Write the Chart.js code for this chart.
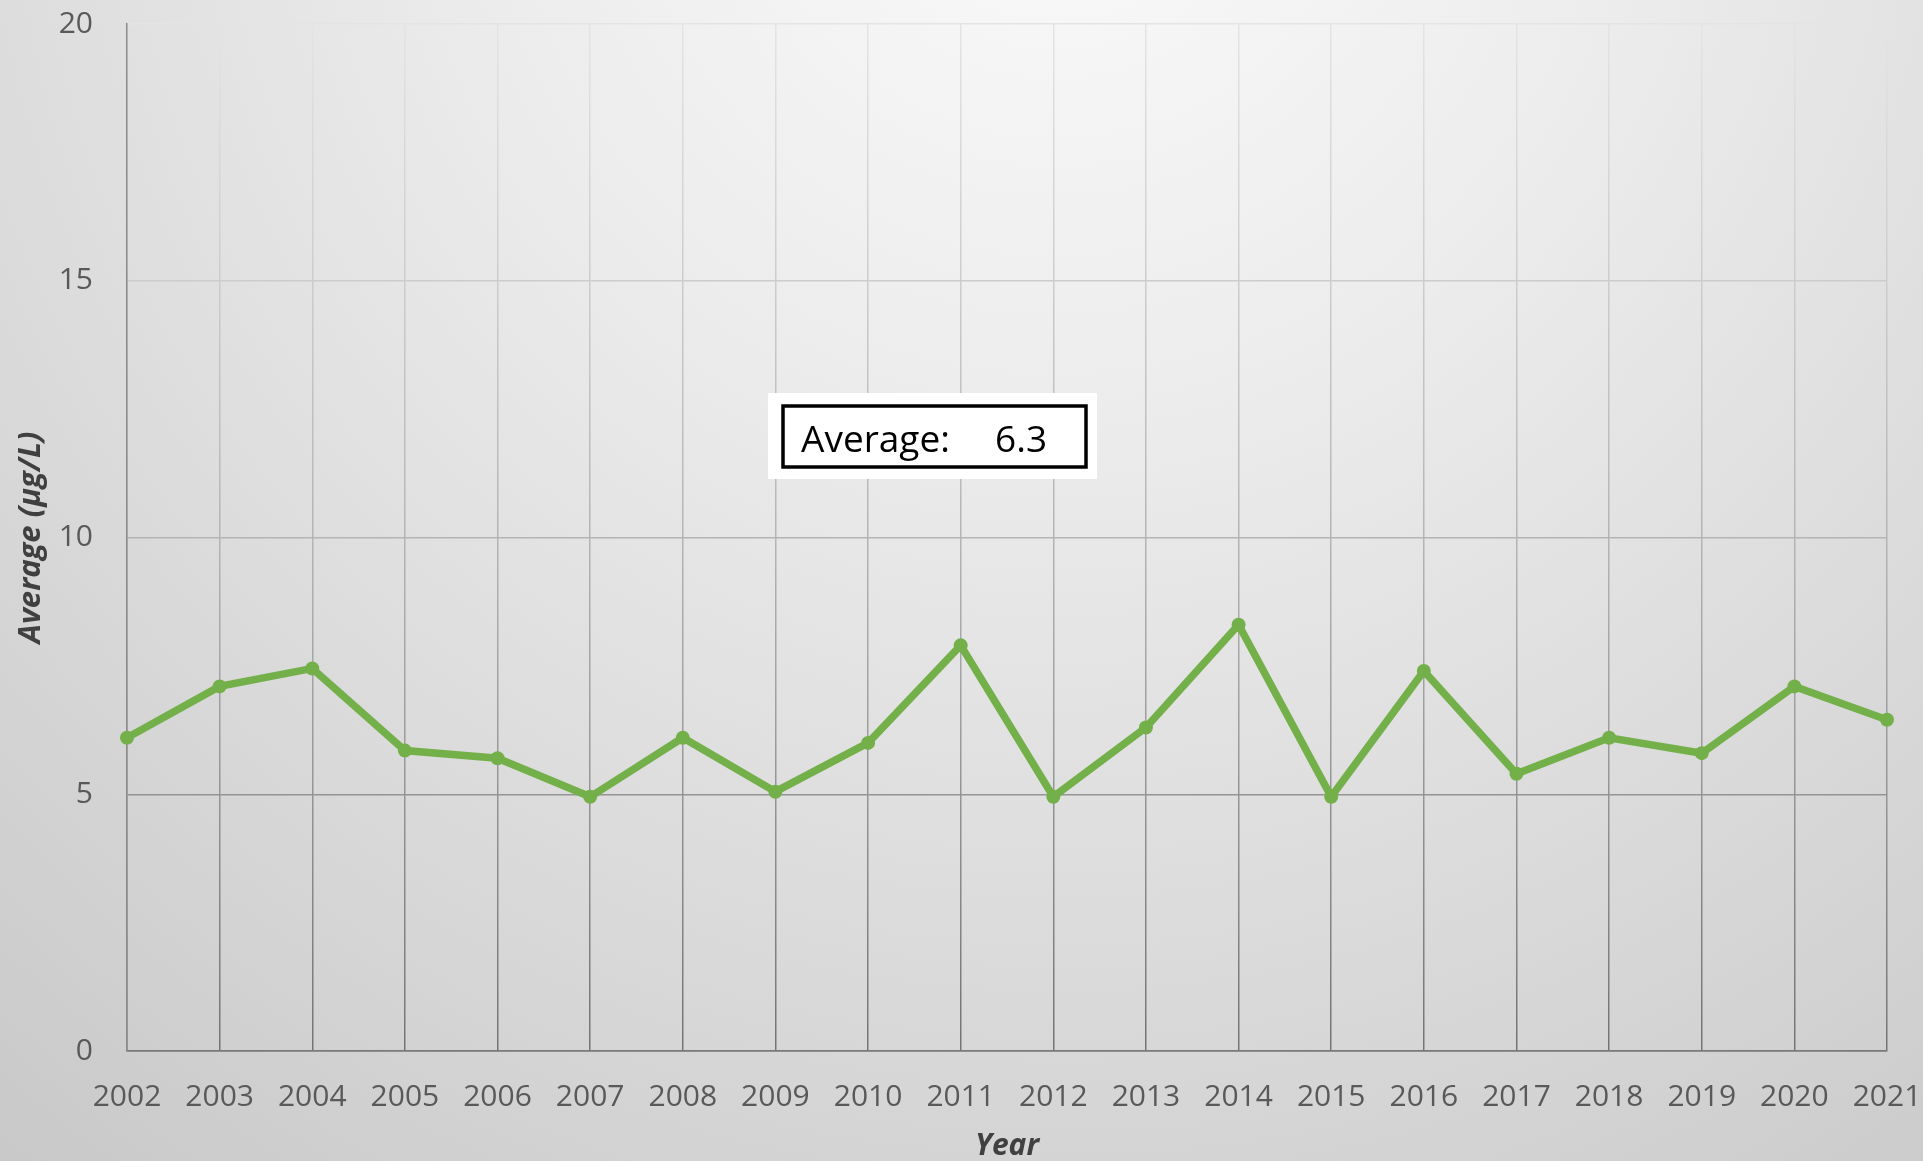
<!DOCTYPE html>
<html>
<head>
<meta charset="utf-8">
<script src="https://cdn.jsdelivr.net/npm/chart.js@4/dist/chart.umd.min.js"></script>
<style>
  html, body { margin: 0; padding: 0; background: #d8d8d8; }
  #wrap { width: 1923px; height: 1161px; position: relative; }
</style>
</head>
<body>
<div id="wrap"><canvas id="chart" width="1923" height="1161"></canvas></div>
<script>
// data
const years = ['2002', '2003', '2004', '2005', '2006', '2007', '2008', '2009', '2010', '2011',
               '2012', '2013', '2014', '2015', '2016', '2017', '2018', '2019', '2020', '2021'];
const averages = [6.1, 7.1, 7.45, 5.85, 5.7, 4.95, 6.1, 5.05, 6.0, 7.9,
                  4.95, 6.3, 8.3, 4.95, 7.4, 5.4, 6.1, 5.8, 7.1, 6.45];
const yTicks = [0, 5, 10, 15, 20];
const averageLabel = 'Average:';
const averageValue = '6.3';

const LINE_GREEN = '#74b04a';
const TICK_GREY = '#595959';

// gridlines fade from light at the top to dark at the bottom
function gridGradient(chart) {
    const area = chart.chartArea;
    if (!area) return '#b0b0b0';
    const g = chart.ctx.createLinearGradient(0, area.top, 0, area.bottom);
    g.addColorStop(0, '#e4e4e4');
    g.addColorStop(0.5, '#b4b4b4');
    g.addColorStop(1, '#747474');
    return g;
}

const backgroundPlugin = {
    id: 'bg',
    beforeDraw(chart) {
        const { ctx, width, height } = chart;
        ctx.save();
        const g = ctx.createRadialGradient(width * 0.55, -height * 0.15, 0, width * 0.55, -height * 0.15, height * 1.45);
        g.addColorStop(0, '#fbfbfb');
        g.addColorStop(0.35, '#ececec');
        g.addColorStop(1, '#c9c9c9');
        ctx.fillStyle = g;
        ctx.fillRect(0, 0, width, height);
        ctx.restore();
    },
};

// the boxed "Average: 6.3" note
const averageBoxPlugin = {
    id: 'avgBox',
    afterDatasetsDraw(chart) {
        const ctx = chart.ctx;
        ctx.save();
        ctx.fillStyle = '#ffffff';
        ctx.fillRect(768, 393, 329, 86);
        ctx.strokeStyle = '#000000';
        ctx.lineWidth = 3.5;
        ctx.strokeRect(783, 406, 303, 61);
        ctx.fillStyle = '#000000';
        ctx.font = '37px "Open Sans"';
        ctx.textBaseline = 'middle';
        ctx.textAlign = 'left';
        ctx.fillText(averageLabel, 801, 441);
        ctx.fillText(averageValue, 995, 441);
        ctx.restore();
    },
};

new Chart(document.getElementById('chart'), {
    type: 'line',
    data: {
        labels: years,
        datasets: [{
            data: averages,
            borderColor: LINE_GREEN,
            backgroundColor: LINE_GREEN,
            borderWidth: 7.5,
            pointRadius: 7,
            pointBorderWidth: 0,
            pointBackgroundColor: LINE_GREEN,
            tension: 0,
        }],
    },
    options: {
        responsive: false,
        animation: false,
        devicePixelRatio: 1,
        layout: { padding: { left: 0, right: 36, top: 24, bottom: 0 } },
        plugins: {
            legend: { display: false },
            tooltip: { enabled: false },
        },
        scales: {
            x: {
                type: 'category',
                offset: false,
                grid: {
                    color: (c) => gridGradient(c.chart),
                    lineWidth: 1.5,
                    drawTicks: false,
                },
                border: { display: true, color: '#7a7a7a', width: 1.5 },
                ticks: {
                    color: TICK_GREY,
                    font: { family: 'Open Sans', size: 30 },
                    padding: 28,
                    maxRotation: 0,
                    autoSkip: false,
                },
                title: {
                    display: true,
                    text: 'Year',
                    color: '#404040',
                    font: { family: 'Open Sans', size: 30, weight: 'bold', style: 'italic' },
                    padding: { top: 0, bottom: -3 },
                },
                afterFit: (scale) => {
                    scale.height = 110;
                    scale.paddingLeft = 0;
                    scale.paddingRight = 0;
                },
            },
            y: {
                min: 0,
                max: 20,
                afterBuildTicks: (scale) => { scale.ticks = yTicks.map(v => ({ value: v })); },
                grid: {
                    color: (c) => gridGradient(c.chart),
                    lineWidth: 1.5,
                    drawTicks: false,
                },
                border: { display: true, color: '#8a8a8a', width: 1.5 },
                ticks: {
                    color: TICK_GREY,
                    font: { family: 'Open Sans', size: 30 },
                    padding: 34,
                },
                title: {
                    display: true,
                    text: 'Average (µg/L)',
                    color: '#404040',
                    font: { family: 'Open Sans', size: 31, weight: 'bold', style: 'italic' },
                    padding: { top: 13, bottom: 0 },
                },
                afterFit: (scale) => {
                    scale.width = 127;
                    scale.paddingTop = 0;
                    scale.paddingBottom = 0;
                },
            },
        },
    },
    plugins: [backgroundPlugin, averageBoxPlugin],
});
</script>
</body>
</html>
